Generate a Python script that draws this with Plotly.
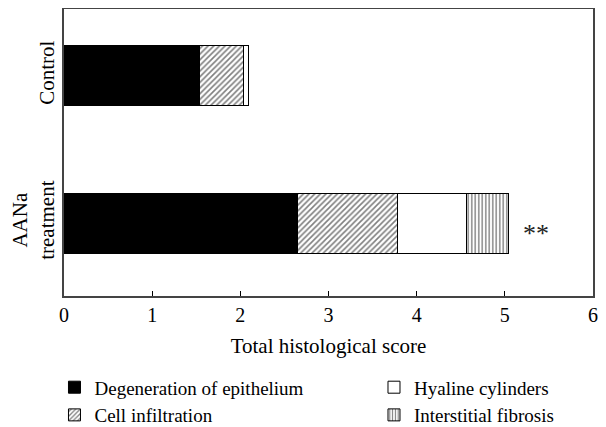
import plotly.graph_objects as go

groups = ['AANa<br>treatment', 'Control']
degeneration = [2.65, 1.54]
infiltration = [1.13, 0.50]
hyaline = [0.78, 0.05]
fibrosis = [0.48, 0.0]
x_ticks = [0, 1, 2, 3, 4, 5, 6]
star_x = 5.35
star_text = '**'

FONT = 'Liberation Serif, DejaVu Serif, serif'

fig = go.Figure()


def add_part(values, name, fill, pattern=None, size=4, legend='legend'):
    marker = dict(color=fill, line=dict(color='black', width=1))
    if pattern:
        marker['pattern'] = dict(shape=pattern, fgcolor='black', bgcolor='white',
                                 size=size, solidity=0.4)
    fig.add_trace(
        go.Bar(
            y=groups,
            x=values,
            orientation='h',
            name=name,
            marker=marker,
            width=0.405,
            legend=legend,
        )
    )


add_part(degeneration, 'Degeneration of epithelium', 'black')
add_part(infiltration, 'Cell infiltration', 'white', pattern='/', size=4)
add_part(hyaline, 'Hyaline cylinders', 'white', legend='legend2')
add_part(fibrosis, 'Interstitial fibrosis', 'white', pattern='|', size=3.5,
         legend='legend2')

fig.add_annotation(x=star_x, y=groups[0], text=star_text, showarrow=False,
                   font=dict(family=FONT, size=26, color='#222'), yshift=-10)

legend_style = dict(
    orientation='v', yanchor='top', xanchor='left',
    yref='container', y=0.14,
    font=dict(family=FONT, size=19, color='black'),
    bgcolor='rgba(0,0,0,0)', tracegroupgap=0, itemwidth=30,
    traceorder='normal',
)

fig.update_layout(
    width=598,
    height=419,
    barmode='stack',
    plot_bgcolor='white',
    paper_bgcolor='white',
    margin=dict(l=56, r=13, t=1, b=131, autoexpand=False),
    font=dict(family=FONT, size=21, color='black'),
    legend=dict(legend_style, x=-0.018),
    legend2=dict(legend_style, x=0.586),
    xaxis=dict(
        range=[0, 6],
        tickvals=x_ticks,
        ticks='inside',
        ticklen=5,
        tickcolor='black',
        showgrid=False,
        zeroline=False,
        showline=True,
        linecolor='#444',
        linewidth=1.5,
        mirror=True,
        tickfont=dict(family=FONT, size=20),
        title=dict(text='Total histological score', standoff=14,
                   font=dict(family=FONT, size=21)),
    ),
    yaxis=dict(
        range=[-0.493, 1.453],
        tickangle=-90,
        ticks='',
        showgrid=False,
        zeroline=False,
        showline=True,
        linecolor='#444',
        linewidth=1.5,
        mirror=True,
        tickfont=dict(family=FONT, size=21),
    ),
)

fig.write_html('out.html')
